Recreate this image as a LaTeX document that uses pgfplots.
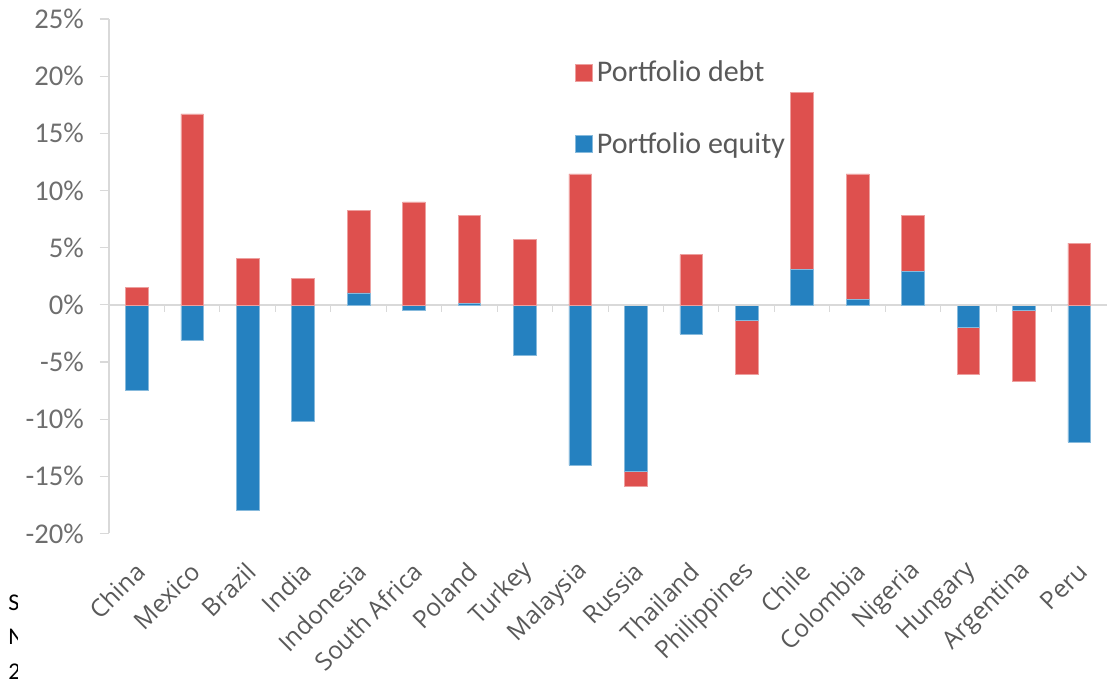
\documentclass[border=0pt]{standalone}
\usepackage{fontspec}
\setmainfont{Carlito}
\setsansfont{Open Sans}
\usepackage{pgfplots}
\usepackage{pgfplotstable}
\pgfplotsset{compat=1.18}
\definecolor{debtred}{HTML}{DE504E}
\definecolor{eqblue}{HTML}{2581C0}
\definecolor{axgray}{HTML}{D9D9D9}
\definecolor{ticktext}{HTML}{6E6E6E}
\definecolor{cattext}{HTML}{595959}

\pgfplotstableread{
x eqpos debtpos eqneg debtneg
0 0 1.5 -7.5 0
1 0 16.7 -3.1 0
2 0 4.05 -18.0 0
3 0 2.3 -10.2 0
4 1.05 7.2 0 0
5 0 9.0 -0.45 0
6 0.1 7.7 0 0
7 0 5.7 -4.45 0
8 0 11.45 -14.05 0
9 0 0 -14.55 -1.35
10 0 4.4 -2.55 0
11 0 0 -1.35 -4.75
12 3.1 15.5 0 0
13 0.45 11.0 0 0
14 2.9 4.9 0 0
15 0 0 -2.0 -4.05
16 0 0 -0.45 -6.25
17 0 5.4 -12.0 0
}\flows

\pgfplotsset{
  base/.style={
    at={(0pt,0pt)}, anchor=south west,
    width=499pt, height=257.25pt, scale only axis,
    xmin=-0.5, xmax=17.5, ymin=-20, ymax=25,
    ybar stacked, bar width=11.3pt,
    clip=false,
  },
  debtbar/.style={fill=debtred, draw=debtred!55!white, line width=0.3pt},
  eqbar/.style={fill=eqblue, draw=eqblue!55!white, line width=0.3pt},
}

\begin{document}
\begin{tikzpicture}
% negative parts + axis decorations
\begin{axis}[base,
  axis lines*=left,
  x axis line style={draw=none},
  y axis line style={draw=axgray, line width=0.65pt},
  ytick={-20,-15,...,25},
  yticklabel={\pgfmathprintnumber{\tick}\%},
  /pgf/number format/assume math mode=true,
  yticklabel style={font=\fontsize{14.3}{14.3}\selectfont, text=ticktext, xshift=-4.5pt},
  ytick style={draw=axgray, line width=0.65pt},
  tick align=outside,
  major tick length=4.5pt,
  xtick={0,...,17},
  x tick style={draw=none},
  xticklabels={China,Mexico,Brazil,India,Indonesia,South Africa,Poland,Turkey,Malaysia,Russia,Thailand,Philippines,Chile,Colombia,Nigeria,Hungary,Argentina,Peru},
  xticklabel style={rotate=45, anchor=east, font=\sffamily\fontsize{12.3}{12.3}\selectfont, text=cattext, xshift=-4pt, yshift=-10pt},
]
\addplot[eqbar] table[x=x, y=eqneg] {\flows};
\addplot[debtbar] table[x=x, y=debtneg] {\flows};
\end{axis}
% positive parts, zero line, legend
\begin{axis}[base,
  hide axis,
  legend style={at={(0.4669,0.928)}, anchor=north west, draw=none, fill=none,
    inner sep=0pt, row sep=20pt, font=\fontsize{15}{15}\selectfont, text=cattext,
    legend cell align=left},
  legend image code/.code={\fill[#1] (-0.8pt,-4.25pt) rectangle (7.7pt,4.25pt);},
  reverse legend,
]
\addplot[eqbar] table[x=x, y=eqpos] {\flows};
\addlegendentry{Portfolio equity}
\addplot[debtbar] table[x=x, y=debtpos] {\flows};
\addlegendentry{Portfolio debt}
\draw[axgray, line width=0.85pt] (axis cs:-0.5,0) -- (axis cs:17.5,0);
\pgfplotsinvokeforeach{0.5,1.5,...,16.5}{
  \draw[axgray, line width=0.5pt] (axis cs:#1,0) -- ([yshift=-3.7pt]axis cs:#1,0);
}
\end{axis}
% clipped source note at the left edge
\begin{scope}
\clip (-54.5pt,-80pt) rectangle (-45.5pt,-25pt);
\node[anchor=base west, inner sep=0pt, font=\fontsize{12}{12}\selectfont] at (-50.5pt,-38.75pt) {Source};
\node[anchor=base west, inner sep=0pt, font=\fontsize{12}{12}\selectfont] at (-50.5pt,-55.75pt) {Note};
\node[anchor=base west, inner sep=0pt, font=\fontsize{12}{12}\selectfont] at (-50.5pt,-73.25pt) {2014};
\end{scope}
\pgfresetboundingbox
\useasboundingbox (-54.5pt,-77.25pt) rectangle (499pt,266.75pt);
\end{tikzpicture}
\end{document}
